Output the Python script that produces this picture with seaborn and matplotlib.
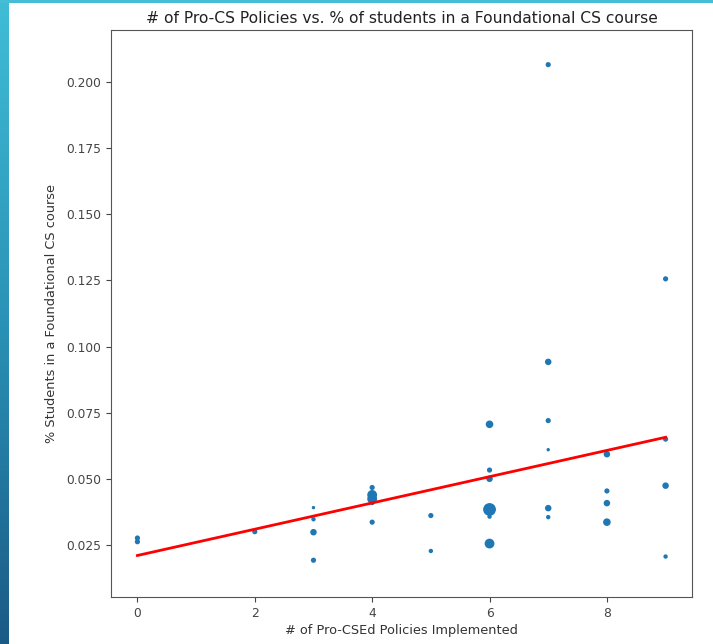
import numpy as np
import pandas as pd
import matplotlib
matplotlib.use("Agg")
import matplotlib.pyplot as plt
import seaborn as sns
from matplotlib.colors import LinearSegmentedColormap

# Data
policies = [0, 0, 2, 3, 3, 3, 3, 4, 4, 4, 4, 4, 5, 5,
            6, 6, 6, 6, 6, 6, 7, 7, 7, 7, 7, 7,
            8, 8, 8, 8, 9, 9, 9, 9]
pct_students = [0.0276, 0.0262, 0.0300, 0.0391, 0.0347, 0.0298, 0.0192,
                0.0467, 0.0439, 0.0424, 0.0410, 0.0336, 0.0361, 0.0227,
                0.0706, 0.0533, 0.0500, 0.0384, 0.0357, 0.0255,
                0.2066, 0.0942, 0.0720, 0.0610, 0.0389, 0.0355,
                0.0593, 0.0454, 0.0408, 0.0336,
                0.1256, 0.0650, 0.0474, 0.0206]
marker_size = [14, 14, 14, 6, 10, 22, 14,
               14, 50, 50, 14, 14, 14, 10,
               30, 14, 22, 85, 10, 50,
               14, 22, 14, 6, 22, 10,
               22, 14, 22, 30,
               14, 14, 22, 10]
fit_start = 0.0210
fit_end = 0.0657

df = pd.DataFrame({"policies": policies, "pct": pct_students, "size": marker_size})
slope = (fit_end - fit_start) / 9.0
df["fit"] = fit_start + slope * df["policies"]

plt.rcParams["font.family"] = ["DejaVu Sans"]
fig = plt.figure(figsize=(7.13, 6.44), dpi=100)
fig.patch.set_facecolor("white")

# decorative slide stripes
grad = LinearSegmentedColormap.from_list("g", ["#40bdd6", "#2a92b6", "#1b5a86"])
sax = fig.add_axes([0, 0, 9 / 713, 1])
sax.imshow(np.linspace(0, 1, 256).reshape(-1, 1), aspect="auto", cmap=grad)
sax.axis("off")
tax = fig.add_axes([0, 1 - 3 / 644, 1, 3 / 644])
tax.axis("off")
tax.add_patch(plt.Rectangle((0, 0), 1, 1, color="#45bdd6", transform=tax.transAxes))

ax = fig.add_axes([111 / 713, 1 - 597 / 644, 581 / 713, 567 / 644])
ax.scatter(df["policies"], df["pct"], s=df["size"], color="#1f77b4", linewidths=0)
sns.lineplot(data=df, x="policies", y="fit", color="red", linewidth=2.0, ax=ax,
             errorbar=None, estimator=None)
ax.set_xlim(-0.45, 9.45)
ax.set_ylim(0.0053, 0.2197)
ax.set_yticks([0.025, 0.050, 0.075, 0.100, 0.125, 0.150, 0.175, 0.200])
ax.set_xticks([0, 2, 4, 6, 8])
ax.tick_params(labelsize=8.8, colors="#444444", length=3.5)
for s in ax.spines.values():
    s.set_color("#555555")
ax.set_xlabel("# of Pro-CSEd Policies Implemented", fontsize=9.3, color="#333333", labelpad=3)
ax.set_ylabel("% Students in a Foundational CS course", fontsize=9.3, color="#333333", labelpad=6)
ax.set_title("# of Pro-CS Policies vs. % of students in a Foundational CS course",
             fontsize=11.2, color="#222222", pad=5)

fig.savefig("out.png", dpi=100)
